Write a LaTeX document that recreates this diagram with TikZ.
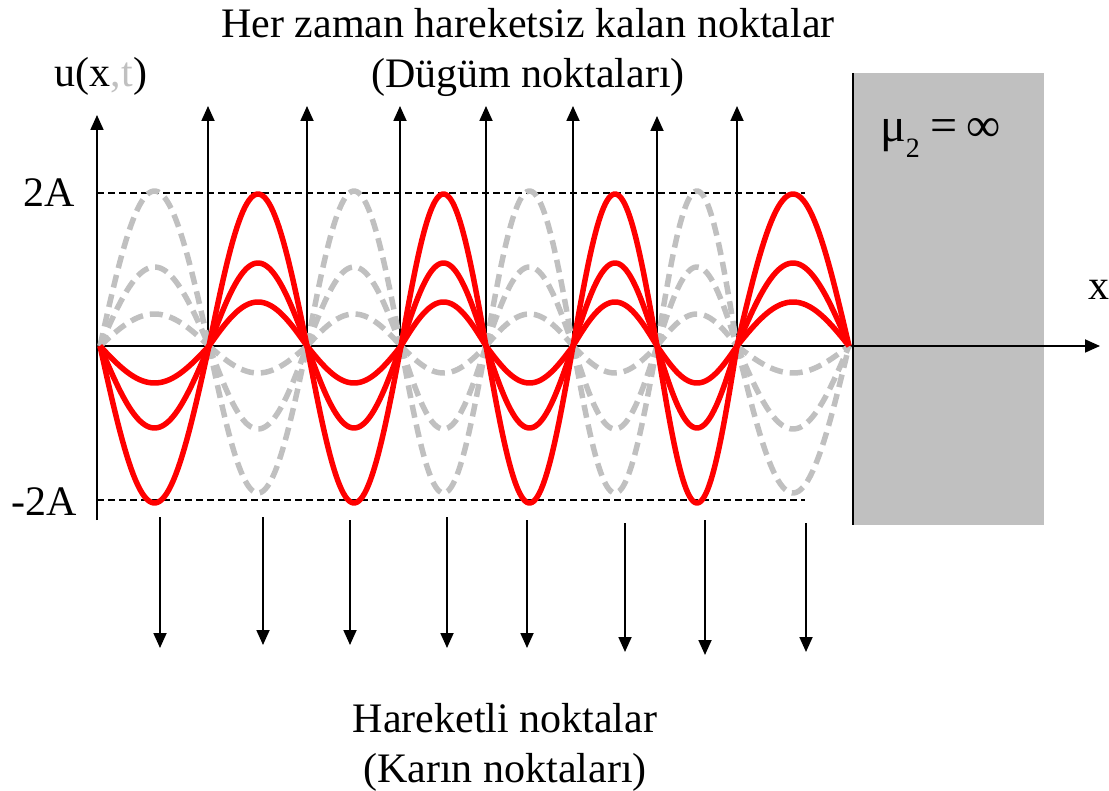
\documentclass[tikz,border=0pt]{standalone}
\usepackage{fontspec}
\setmainfont{Liberation Serif}
\usetikzlibrary{arrows.meta}
\definecolor{lgray}{HTML}{C0C0C0}
\tikzset{
  txt/.style={inner sep=0pt, anchor=base, font=\fontsize{42}{50}\selectfont},
  arr/.style={line width=1.8pt, -{Triangle[length=15pt,width=13pt]}},
  axisline/.style={line width=1.8pt},
  lvl/.style={line width=1.5pt, dash pattern=on 7pt off 4pt},
  redc/.style={red, line width=5.5pt, line join=round},
  grayc/.style={lgray, line width=5.5pt, dash pattern=on 13pt off 7pt},
}
\begin{document}
\begin{tikzpicture}[x=1pt, y=-1pt]
\useasboundingbox (0,0) rectangle (1109,791);
% wall
\fill[lgray] (853,73) rectangle (1044,525);
\coordinate (wt) at (853,73);
\coordinate (wb) at (853,525);
\draw[axisline] (wt) -- (wb);
% level lines
\coordinate (l1a) at (97,193); \coordinate (l1b) at (805,193);
\coordinate (l2a) at (97,500); \coordinate (l2b) at (805,500);
\draw[lvl] (l1a) -- (l1b);
\draw[lvl] (l2a) -- (l2b);
% axes
\coordinate (o) at (97,346);
\coordinate (ybot) at (97,520);
\coordinate (ytop) at (97,115);
\coordinate (xend) at (1100,346);
\draw[axisline] (ybot) -- (o);
\draw[arr] (o) -- (ytop);
\draw[arr] (o) -- (xend);
% node arrows (up)
\foreach \i/\xx/\yt in {1/208/106, 2/307/106, 3/400/106, 4/486/106, 5/573/106, 6/657/116, 7/737/106} {
  \coordinate (nb\i) at (\xx,346);
  \coordinate (nt\i) at (\xx,\yt);
  \draw[arr] (nb\i) -- (nt\i);
}
% antinode arrows (down)
\foreach \i/\xx/\ys/\ye in {1/160/517/648, 2/263/517/645, 3/350/520/645, 4/447/517/648, 5/527/520/648, 6/625/523/652, 7/705/520/655, 8/806/523/652} {
  \coordinate (as\i) at (\xx,\ys);
  \coordinate (ae\i) at (\xx,\ye);
  \draw[arr] (as\i) -- (ae\i);
}
% gray dashed curves
\foreach \a/\b in {100/209, 307/401, 486/573, 657/737} {
  \foreach \h in {155,79,32} {
    \draw[grayc] plot[domain=0:180, samples=50] ({\a+(\b-\a)*(\x/180)},{346-\h*sin(\x)});
  }
}
\foreach \a/\b in {209/307, 401/486, 573/657, 737/849} {
  \foreach \h in {147,83,27} {
    \draw[grayc] plot[domain=0:180, samples=50] ({\a+(\b-\a)*(\x/180)},{346+\h*sin(\x)});
  }
}
% red curves
\foreach \a/\b in {209/307, 401/486, 573/657, 737/849} {
  \foreach \h in {152,83,44} {
    \draw[redc] plot[domain=0:180, samples=50] ({\a+(\b-\a)*(\x/180)},{346-\h*sin(\x)});
  }
}
\foreach \a/\b in {100/209, 307/401, 486/573, 657/737} {
  \foreach \h in {157,82,37} {
    \draw[redc] plot[domain=0:180, samples=50] ({\a+(\b-\a)*(\x/180)},{346+\h*sin(\x)});
  }
}
% texts
\node[txt] (t1) at (528,38) {Her zaman hareketsiz kalan noktalar};
\node[txt] (t2) at (528,88) {(Dügüm noktaları)};
\node[txt] (u) at (101,87) {u(x{\color{lgray},t})};
\node[txt] (a2) at (49,207) {2A};
\node[txt] (am2) at (44,515) {-2A};
\node[txt, anchor=base west] (xl) at (1088,300) {x};
\node[txt, anchor=base west, font=\fontsize{48}{50}\selectfont] (mu) at (880,142) {μ\raisebox{-16pt}{\fontsize{28}{28}\selectfont 2}\hspace{11pt}=\hspace{9pt}∞};
\node[txt] (b1) at (505,732) {Hareketli noktalar};
\node[txt] (b2) at (505,782) {(Karın noktaları)};
\end{tikzpicture}
\end{document}
